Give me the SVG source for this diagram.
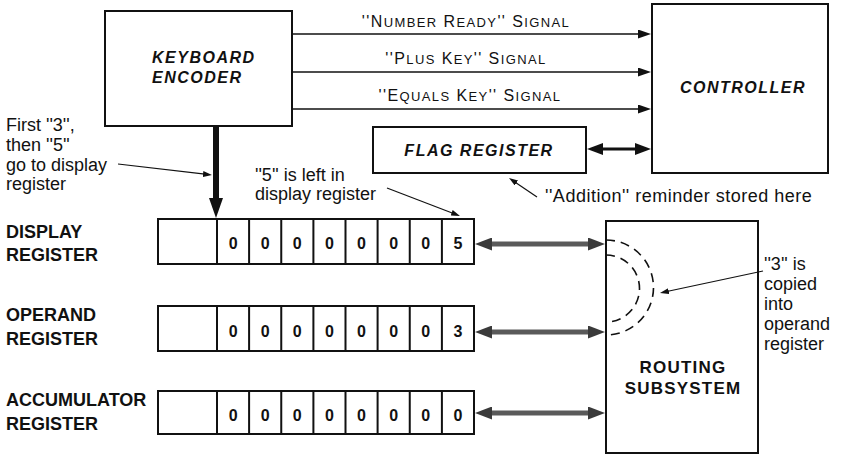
<svg xmlns="http://www.w3.org/2000/svg" width="842" height="455" viewBox="0 0 842 455">
<style>
text{font-family:"Liberation Sans",Arial,sans-serif;fill:#111}
.box{fill:#fff;stroke:#111;stroke-width:2}
.bi{font-weight:bold;font-style:italic;font-size:16px;letter-spacing:1.5px}
.b{font-weight:bold;font-size:17px;letter-spacing:1.2px}
.lab{font-weight:bold;font-size:18px}
.dig{font-weight:bold;font-size:16px;text-anchor:middle}
.note{font-size:18px}
.sig{font-size:16px;letter-spacing:1.4px;text-anchor:middle}
.sc{font-size:13px}
.cell{stroke:#111;stroke-width:2}
.ln{stroke:#111;stroke-width:1.5;fill:none}
.thin{stroke:#111;stroke-width:1.2;fill:none}
.gray{stroke:#5a5a5a;stroke-width:5;fill:none}
.dash{stroke:#111;stroke-width:1.6;fill:none;stroke-dasharray:9 6}
</style>
<defs>
<marker id="a1" viewBox="0 0 13 9" refX="3" refY="4.5" markerWidth="13" markerHeight="9" markerUnits="userSpaceOnUse" orient="auto"><path d="M0,0 L13,4.5 L0,9 z" fill="#111"/></marker>
<marker id="a2" viewBox="0 0 20 14" refX="4" refY="7" markerWidth="20" markerHeight="14" markerUnits="userSpaceOnUse" orient="auto"><path d="M0,0 L20,7 L0,14 z" fill="#111"/></marker>
<marker id="a3" viewBox="0 0 16 12" refX="4" refY="6" markerWidth="16" markerHeight="12" markerUnits="userSpaceOnUse" orient="auto-start-reverse"><path d="M0,0 L16,6 L0,12 z" fill="#111"/></marker>
<marker id="a4" viewBox="0 0 17 13" refX="4" refY="6.5" markerWidth="17" markerHeight="13" markerUnits="userSpaceOnUse" orient="auto-start-reverse"><path d="M0,0 L17,6.5 L0,13 z" fill="#3a3a3a"/></marker>
<marker id="a5" viewBox="0 0 9 6" refX="2" refY="3" markerWidth="9" markerHeight="6" markerUnits="userSpaceOnUse" orient="auto"><path d="M0,0 L9,3 L0,6 z" fill="#111"/></marker>
</defs>
<rect width="842" height="455" fill="#fff"/>

<g id="keyboard-encoder">
<rect class="box" x="105" y="11" width="187" height="115"/>
<text class="bi" x="152" y="63">KEYBOARD</text>
<text class="bi" x="152" y="83">ENCODER</text>
</g>

<g id="controller">
<rect class="box" x="652" y="4" width="176" height="169"/>
<text class="bi" x="743" y="93" text-anchor="middle">CONTROLLER</text>
</g>

<g id="flag-register">
<rect class="box" x="373" y="127" width="213" height="46"/>
<text class="bi" x="479" y="156" text-anchor="middle">FLAG REGISTER</text>
</g>

<g id="routing-subsystem">
<rect class="box" x="606" y="221" width="152" height="232"/>
<text class="b" x="683" y="373" text-anchor="middle">ROUTING</text>
<text class="b" x="683" y="394" text-anchor="middle">SUBSYSTEM</text>
<path class="dash" d="M606,240 A47.5,47.5 0 0 1 606,335"/>
<path class="dash" d="M606,255 A33.5,33.5 0 0 1 606,322"/>
</g>

<g id="display-register">
<text class="lab" x="6" y="238">DISPLAY</text>
<text class="lab" x="6" y="261">REGISTER</text>
<rect class="box" x="158" y="219" width="316" height="45"/>
<path class="cell" d="M217,219V264M249.1,219V264M281.25,219V264M313.4,219V264M345.5,219V264M377.6,219V264M409.75,219V264M441.9,219V264"/>
<text class="dig" y="249"><tspan x="233.1">0</tspan><tspan x="265.2">0</tspan><tspan x="297.3">0</tspan><tspan x="329.4">0</tspan><tspan x="361.5">0</tspan><tspan x="393.7">0</tspan><tspan x="425.8">0</tspan><tspan x="457.9">5</tspan></text>
</g>

<g id="operand-register">
<text class="lab" x="6" y="321">OPERAND</text>
<text class="lab" x="6" y="345">REGISTER</text>
<rect class="box" x="158" y="306" width="316" height="45"/>
<path class="cell" d="M217,306V351M249.1,306V351M281.25,306V351M313.4,306V351M345.5,306V351M377.6,306V351M409.75,306V351M441.9,306V351"/>
<text class="dig" y="337"><tspan x="233.1">0</tspan><tspan x="265.2">0</tspan><tspan x="297.3">0</tspan><tspan x="329.4">0</tspan><tspan x="361.5">0</tspan><tspan x="393.7">0</tspan><tspan x="425.8">0</tspan><tspan x="457.9">3</tspan></text>
</g>

<g id="accumulator-register">
<text class="lab" x="6" y="406">ACCUMULATOR</text>
<text class="lab" x="6" y="430">REGISTER</text>
<rect class="box" x="158" y="391" width="316" height="43"/>
<path class="cell" d="M217,391V434M249.1,391V434M281.25,391V434M313.4,391V434M345.5,391V434M377.6,391V434M409.75,391V434M441.9,391V434"/>
<text class="dig" y="421"><tspan x="233.1">0</tspan><tspan x="265.2">0</tspan><tspan x="297.3">0</tspan><tspan x="329.4">0</tspan><tspan x="361.5">0</tspan><tspan x="393.7">0</tspan><tspan x="425.8">0</tspan><tspan x="457.9">0</tspan></text>
</g>

<g id="connectors">
<line class="ln" x1="292" y1="34" x2="641" y2="34" marker-end="url(#a1)"/>
<line class="ln" x1="292" y1="72" x2="641" y2="72" marker-end="url(#a1)"/>
<line class="ln" x1="292" y1="109" x2="641" y2="109" marker-end="url(#a1)"/>
<line x1="216" y1="126" x2="216" y2="202" stroke="#111" stroke-width="6" marker-end="url(#a2)"/>
<line x1="599" y1="149" x2="639" y2="149" stroke="#111" stroke-width="3" marker-start="url(#a3)" marker-end="url(#a3)"/>
<line class="gray" x1="488" y1="244" x2="592" y2="244" marker-start="url(#a4)" marker-end="url(#a4)"/>
<line class="gray" x1="488" y1="332" x2="592" y2="332" marker-start="url(#a4)" marker-end="url(#a4)"/>
<line class="gray" x1="488" y1="413" x2="592" y2="413" marker-start="url(#a4)" marker-end="url(#a4)"/>
<line class="thin" x1="118" y1="164" x2="205" y2="174.2" marker-end="url(#a5)"/>
<line class="thin" x1="387" y1="188" x2="453.5" y2="213.5" marker-end="url(#a5)"/>
<line class="thin" x1="537" y1="197" x2="514.8" y2="181.9" marker-end="url(#a5)"/>
<line class="thin" x1="763" y1="271" x2="666.8" y2="291.5" marker-end="url(#a5)"/>
</g>

<g id="labels">
<text class="sig" x="466" y="27">''N<tspan class="sc">UMBER</tspan> R<tspan class="sc">EADY</tspan>'' S<tspan class="sc">IGNAL</tspan></text>
<text class="sig" x="466" y="64">''P<tspan class="sc">LUS</tspan> K<tspan class="sc">EY</tspan>'' S<tspan class="sc">IGNAL</tspan></text>
<text class="sig" x="470" y="101">''E<tspan class="sc">QUALS</tspan> K<tspan class="sc">EY</tspan>'' S<tspan class="sc">IGNAL</tspan></text>
<text class="note" x="6" y="131">First ''3'',</text>
<text class="note" x="6" y="151">then ''5''</text>
<text class="note" x="6" y="171">go to display</text>
<text class="note" x="6" y="190">register</text>
<text class="note" x="255" y="181">''5'' is left in</text>
<text class="note" x="255" y="200">display register</text>
<text class="note" x="545" y="202" letter-spacing="0.5">''Addition'' reminder stored here</text>
<text class="note" x="764" y="270">''3'' is</text>
<text class="note" x="764" y="290">copied</text>
<text class="note" x="764" y="310">into</text>
<text class="note" x="764" y="330">operand</text>
<text class="note" x="764" y="350">register</text>
</g>
</svg>
